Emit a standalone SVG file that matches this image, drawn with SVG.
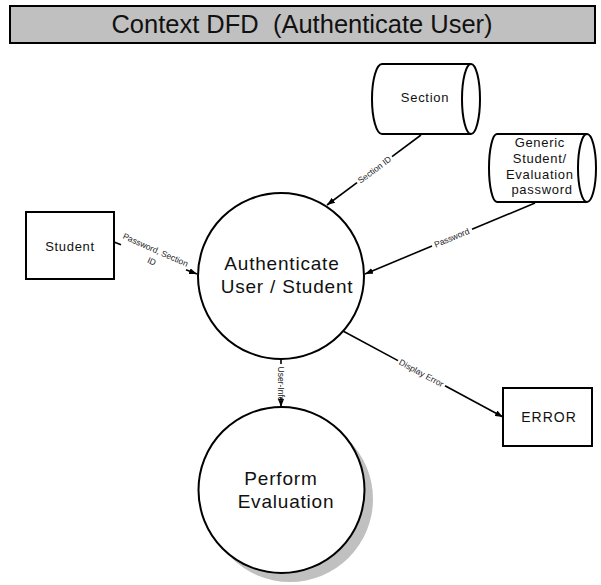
<svg xmlns="http://www.w3.org/2000/svg" width="601" height="585" viewBox="0 0 601 585">
  <style>
    .node { fill: #ffffff; stroke: #000000; stroke-width: 2; }
    .flow { fill: none; stroke: #000000; stroke-width: 1.6; }
    .txt { font-family: "Liberation Sans", Arial, sans-serif; fill: #111111; text-anchor: middle; }
    .small { font-size: 13px; letter-spacing: 0.7px; }
    .proc { font-size: 19px; letter-spacing: 0.8px; }
    .lbl { font-family: "Liberation Sans", Arial, sans-serif; font-size: 8.5px; fill: #222222; text-anchor: middle; }
    .pre { white-space: pre; }
  </style>
  <defs>
    <marker id="arrow" markerUnits="userSpaceOnUse" markerWidth="8" markerHeight="6" refX="8" refY="3" orient="auto">
      <path d="M0,0 L8,3 L0,6 z" fill="#000000"/>
    </marker>
  </defs>

  <rect width="601" height="585" fill="#ffffff"/>

  <!-- title bar -->
  <g id="title">
    <rect x="10" y="6" width="585" height="37" fill="#c0c0c0" stroke="#000000" stroke-width="2"/>
    <text class="txt pre" x="302" y="33" font-size="25.5" xml:space="preserve">Context DFD  (Authenticate User)</text>
  </g>

  <!-- data flows -->
  <g id="connectors">
    <!-- Section ID -->
    <line class="flow" x1="421" y1="135" x2="392" y2="156.6"/>
    <line class="flow" x1="357" y1="182.7" x2="327" y2="205" marker-end="url(#arrow)"/>
    <text class="lbl" transform="translate(374.5,169.7) rotate(-36.7)" y="3">Section ID</text>

    <!-- Password -->
    <line class="flow" x1="535" y1="203" x2="472" y2="229.3"/>
    <line class="flow" x1="432" y1="246" x2="365" y2="274" marker-end="url(#arrow)"/>
    <text class="lbl" transform="translate(451.7,237.8) rotate(-22.7)" y="3">Password</text>

    <!-- Password, Section ID -->
    <line class="flow" x1="114" y1="242" x2="121" y2="244.7"/>
    <line class="flow" x1="186" y1="269.8" x2="197" y2="274" marker-end="url(#arrow)"/>
    <text class="lbl" transform="translate(155,254) rotate(24)">
      <tspan x="0" y="-1">Password, Section</tspan>
      <tspan x="0" y="11">ID</tspan>
    </text>

    <!-- Display Error -->
    <line class="flow" x1="343" y1="331" x2="398" y2="360.6"/>
    <line class="flow" x1="445" y1="385.8" x2="503" y2="417" marker-end="url(#arrow)"/>
    <text class="lbl" transform="translate(421.4,373.1) rotate(28.3)" y="3">Display Error</text>

    <!-- User-Info -->
    <line class="flow" x1="281" y1="359" x2="281" y2="364"/>
    <line class="flow" x1="281" y1="398" x2="281" y2="407" marker-end="url(#arrow)"/>
    <text class="lbl" transform="translate(281,384) rotate(90)" y="3">User-Info</text>
  </g>

  <!-- external entity: Student -->
  <g id="student">
    <rect class="node" x="26" y="212" width="88" height="67"/>
    <text class="txt small" x="70" y="251">Student</text>
  </g>

  <!-- external entity: ERROR -->
  <g id="error">
    <rect class="node" x="503" y="388" width="89" height="58"/>
    <text class="txt" x="549" y="422" font-size="14" letter-spacing="1">ERROR</text>
  </g>

  <!-- data store: Section -->
  <g id="section">
    <path class="node" d="M471,64 H382 A10,35 0 0 0 382,134 H471"/>
    <ellipse class="node" cx="471" cy="99" rx="9" ry="35"/>
    <text class="txt small" x="425" y="102">Section</text>
  </g>

  <!-- data store: Generic Student/Evaluation password -->
  <g id="generic-password">
    <path class="node" d="M587,134 H497 A8,34 0 0 0 497,202 H587"/>
    <ellipse class="node" cx="587" cy="168" rx="9" ry="34"/>
    <text class="txt small" x="542">
      <tspan x="542" y="147">Generic</tspan>
      <tspan x="542" y="163">Student/</tspan>
      <tspan x="542" y="179">Evaluation</tspan>
      <tspan x="542" y="194">password</tspan>
    </text>
  </g>

  <!-- process: Authenticate User / Student -->
  <g id="authenticate">
    <circle class="node" cx="281" cy="276" r="83"/>
    <text class="txt proc">
      <tspan x="285" y="270">Authenticate</tspan>
      <tspan x="287" y="293">User / Student</tspan>
    </text>
  </g>

  <!-- process: Perform Evaluation -->
  <g id="perform-evaluation">
    <circle cx="290" cy="499" r="83" fill="#c0c0c0"/>
    <circle class="node" cx="281.5" cy="490" r="83"/>
    <text class="txt proc">
      <tspan x="284" y="485">Perform</tspan>
      <tspan x="286" y="508">Evaluation</tspan>
    </text>
  </g>
</svg>
